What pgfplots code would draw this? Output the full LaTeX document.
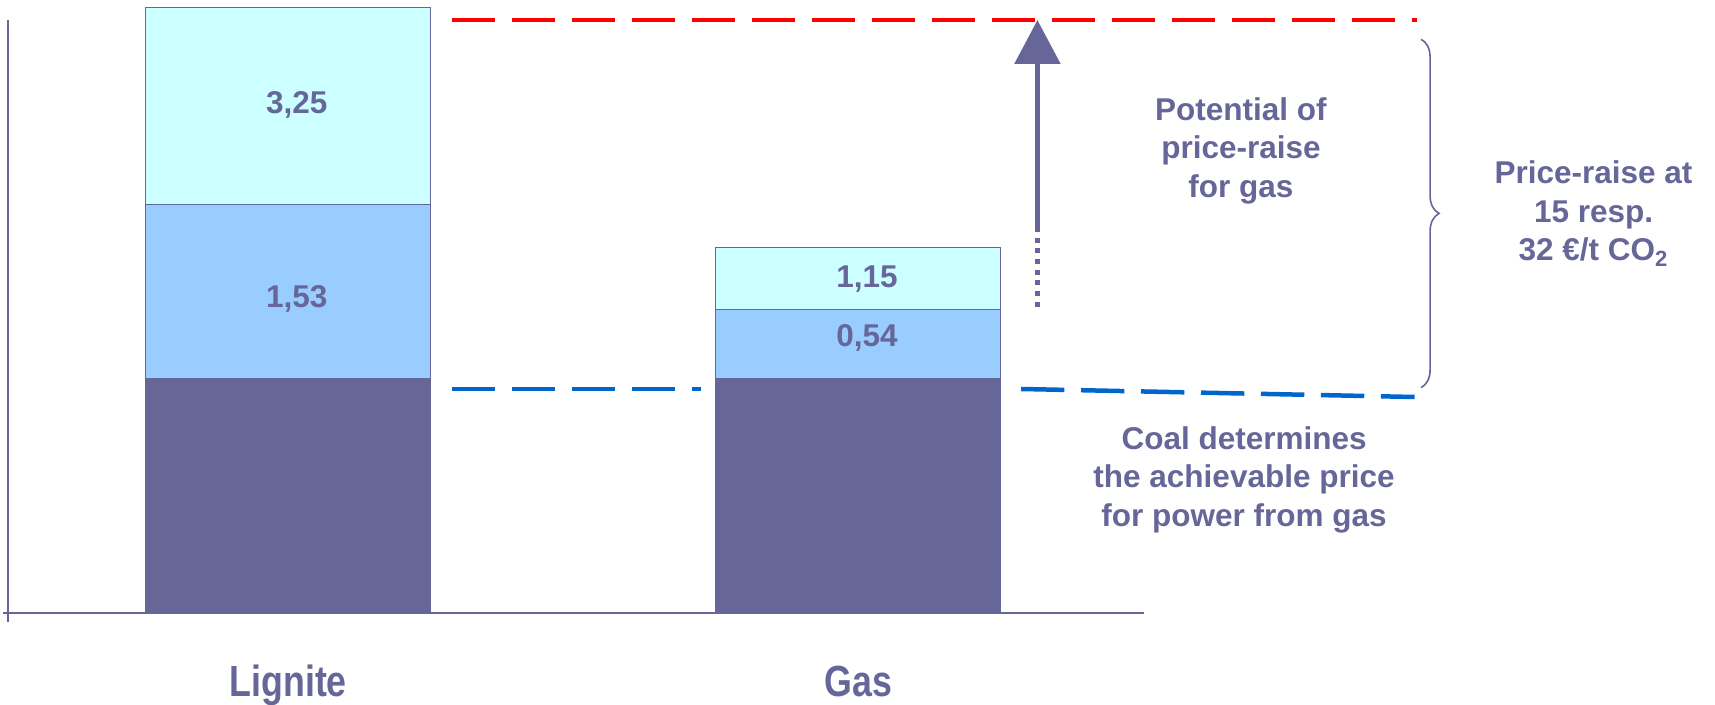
\documentclass[border=0pt]{standalone}
\usepackage{fontspec}
\setmainfont{Liberation Sans}
\newfontfamily\narrowfont{Liberation Sans}[FakeStretch=0.82]
\usepackage{pgfplots}
\pgfplotsset{compat=1.18}
\usetikzlibrary{arrows.meta,decorations.pathreplacing}

\definecolor{navy}{HTML}{666699}
\definecolor{midblue}{HTML}{99CCFF}
\definecolor{lightcyan}{HTML}{CCFFFF}
\definecolor{redline}{HTML}{FF0000}
\definecolor{blueline}{HTML}{0066CC}

\begin{document}
\begin{tikzpicture}[
  txt/.style={text=navy, align=center,
    font=\bfseries\fontsize{15.75}{19.2}\selectfont},
]
\begin{axis}[
  at={(0,0)}, anchor=south west,
  scale only axis,
  width=567.85pt, height=296.35pt,
  xmin=0.509, xmax=2.501,
  ymin=0, ymax=5.927,
  ybar stacked, bar width=0.5,
  axis x line*=bottom, axis y line*=left,
  axis line style={draw=navy, line width=1pt, -},
  xtick={1,2}, xticklabels={Lignite,Gas},
  major tick length=0pt,
  ytick=\empty,
  xticklabel style={anchor=base, yshift=-41.9pt, text=navy,
    font=\narrowfont\bfseries\fontsize{21.8}{24}\selectfont},
  clip=false,
]
% coal / fuel base, CO2 at 15 EUR/t, CO2 at 32 EUR/t
\addplot[fill=navy, draw=navy, line width=0.5pt] coordinates {(1,2.34) (2,2.34)};
\addplot[fill=midblue, draw=navy, line width=0.5pt] coordinates {(1,1.74) (2,0.69)};
\addplot[fill=lightcyan, draw=navy, line width=0.5pt] coordinates {(1,1.97) (2,0.62)};

\coordinate (O) at (axis cs:0.509,0);
\coordinate (L1) at (axis cs:1.015,4.994);
\coordinate (L2) at (axis cs:1.015,3.047);
\coordinate (G1) at (axis cs:2.015,3.249);
\coordinate (G2) at (axis cs:2.015,2.665);
\coordinate (T1) at (axis cs:2.671,4.62);
\coordinate (T2) at (axis cs:3.2895,3.99);
\coordinate (T3) at (axis cs:2.6765,1.33);

% reference lines
\draw[redline, line width=2.25pt, dash pattern=on 21.65pt off 8.35pt]
  (axis cs:1.2865,5.927) -- (axis cs:2.980,5.927);
\draw[blueline, line width=2.25pt, dash pattern=on 21.65pt off 8.35pt]
  (axis cs:1.2865,2.237) -- (axis cs:1.724,2.237);
\draw[blueline, line width=2.25pt, dash pattern=on 21.65pt off 8.35pt]
  (axis cs:2.2853,2.237) -- (axis cs:2.9755,2.157);

% arrow
\draw[navy, line width=2.85pt, -{Triangle[width=22.5pt, length=22pt]}]
  (axis cs:2.3141,3.807) -- (axis cs:2.3141,5.927);
\draw[navy, line width=2.85pt, dash pattern=on 2.5pt off 2.85pt, dash phase=2.5pt]
  (axis cs:2.3141,3.807) -- (axis cs:2.3141,3.057);

% brace
\draw[navy, line width=0.8pt, decorate, decoration={brace, amplitude=9pt}]
  (axis cs:2.987,5.734) -- (axis cs:2.987,2.251);
\end{axis}

% small overshoot of the axis lines at the origin
\draw[navy, line width=1pt] (O) -- ++(-2.5pt,0);
\draw[navy, line width=1pt] (O) -- ++(0,-4.65pt);

% segment labels
\node[txt, anchor=base] at (L1) {3,25};
\node[txt, anchor=base] at (L2) {1,53};
\node[txt, anchor=base] at (G1) {1,15};
\node[txt, anchor=base] at (G2) {0,54};

% annotations
\node[txt] at (T1) {Potential of\\price-raise\\for gas};
\node[txt] at (T2) {Price-raise at\\15 resp.\\32 €/t CO\textsubscript{2}};
\node[txt] at (T3) {Coal determines\\the achievable price\\for power from gas};

\pgfresetboundingbox
\path[use as bounding box] (-4.15pt,-46.15pt) rectangle (853.35pt,306.35pt);
\end{tikzpicture}
\end{document}
